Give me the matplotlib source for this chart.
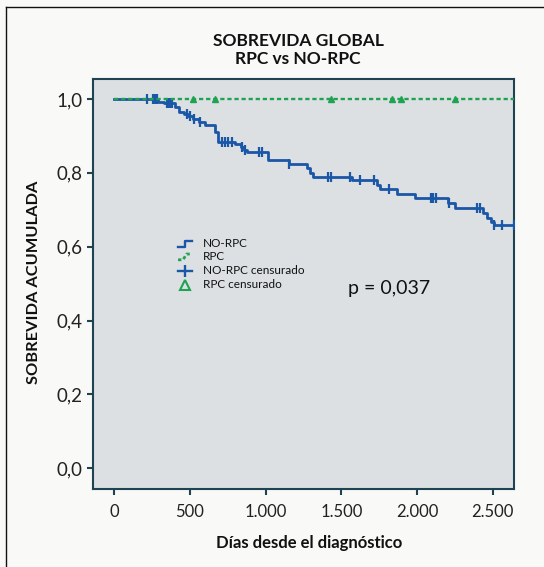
"""Kaplan-Meier overall survival, RPC vs NO-RPC (SPSS-style look)."""
import matplotlib
matplotlib.use("Agg")
import matplotlib.pyplot as plt
import numpy as np
from matplotlib.lines import Line2D

BG = "#f9f9f7"
PANEL = "#dce0e3"
SPINE = "#1d4450"
BLUE = "#1b57a7"
GREEN = "#1fa352"
FONT = "Lato"

# NO-RPC: step times (days) and survival after each step
no_rpc_times = [0, 290, 330, 400, 430, 460, 490, 520, 560, 600, 665, 685,
                798, 840, 860, 875, 1018, 1157, 1275, 1295, 1315, 1568,
                1735, 1755, 1865, 1986, 2205, 2249, 2436, 2459, 2491, 2507]
no_rpc_surv = [1.0, 0.993, 0.988, 0.978, 0.965, 0.960, 0.954, 0.946, 0.937,
               0.929, 0.911, 0.884, 0.878, 0.870, 0.862, 0.857, 0.835, 0.823,
               0.812, 0.800, 0.790, 0.781, 0.767, 0.756, 0.742, 0.731, 0.718,
               0.704, 0.690, 0.677, 0.668, 0.659]
no_rpc_censored = [216, 255, 265, 275, 285, 350, 360, 370, 380, 479, 500, 530,
                   567, 710, 730, 750, 776, 842, 862, 955, 978, 1157, 1414,
                   1429, 1557, 1623, 1715, 1816, 2089, 2107, 2124, 2212, 2397,
                   2414, 2507, 2564, 2640]

# RPC: no events
rpc_times = [0]
rpc_surv = [1.0]
rpc_censored = [523, 666, 1429, 1832, 1891, 2249]

follow_up_end = 2640

x_ticks = [0, 500, 1000, 1500, 2000, 2500]
x_tick_labels = ["0", "500", "1.000", "1.500", "2.000", "2.500"]
y_ticks = [0.0, 0.2, 0.4, 0.6, 0.8, 1.0]
y_tick_labels = ["0,0", "0,2", "0,4", "0,6", "0,8", "1,0"]


def surv_at(times, surv, t):
    idx = np.searchsorted(times, t, side="right") - 1
    return np.asarray(surv)[idx]


W, H = 544, 567
fig = plt.figure(figsize=(W / 100, H / 100), dpi=100, facecolor=BG)
ax = fig.add_axes([93 / W, 1 - 489 / H, (514 - 93) / W, (489 - 79) / H])
ax.set_facecolor(PANEL)

# curves
t = no_rpc_times + [follow_up_end]
s = no_rpc_surv + [no_rpc_surv[-1]]
ax.step(t, s, where="post", color=BLUE, lw=2.0, zorder=3)
ax.plot(no_rpc_censored, surv_at(no_rpc_times, no_rpc_surv, no_rpc_censored),
        ls="none", marker="|", ms=7, mew=1.6, color=BLUE, zorder=4)

t = rpc_times + [follow_up_end]
s = rpc_surv + [rpc_surv[-1]]
ax.step(t, s, where="post", color=GREEN, lw=1.7, ls=(0, (1.8, 1.2)), zorder=5)
ax.plot(rpc_censored, surv_at(rpc_times, rpc_surv, rpc_censored),
        ls="none", marker="^", ms=4.5, color=GREEN, zorder=6)

ax.set_xlim(-140, 2640)
ax.set_ylim(-0.056, 1.054)
ax.set_xticks(x_ticks)
ax.set_xticklabels(x_tick_labels, fontsize=12, family=FONT, color="#222222")
ax.set_yticks(y_ticks)
ax.set_yticklabels(y_tick_labels, fontsize=13.5, family=FONT, color="#222222")
ax.tick_params(axis="both", direction="out", length=4.5, width=1.5,
               color=SPINE, pad=3)
ax.tick_params(axis="x", pad=6)
for sp in ax.spines.values():
    sp.set_color(SPINE)
    sp.set_linewidth(1.5)

# legend, drawn by hand (step glyphs like SPSS)
lx0, lx1, tx = 0.202, 0.234, 0.262
rows = [0.598, 0.566, 0.532, 0.498]
labels = ["NO-RPC", "RPC", "NO-RPC censurado", "RPC censurado"]
d = 0.007
ax.plot([lx0, (lx0 + lx1) / 2, (lx0 + lx1) / 2, lx1],
        [rows[0] - d, rows[0] - d, rows[0] + d, rows[0] + d],
        color=BLUE, lw=1.7, transform=ax.transAxes, clip_on=False)
ax.plot([lx0, (lx0 + lx1) / 2 - 0.004, (lx0 + lx1) / 2 + 0.004, lx1],
        [rows[1] - d, rows[1] - d, rows[1] + d, rows[1] + d],
        color=GREEN, lw=2.0, ls=(0, (1.2, 0.9)), transform=ax.transAxes,
        clip_on=False)
ax.plot([lx0, lx1], [rows[2], rows[2]], color=BLUE, lw=1.7,
        transform=ax.transAxes)
ax.plot([(lx0 + lx1) / 2], [rows[2]], marker="|", ms=9, mew=1.7, color=BLUE,
        transform=ax.transAxes)
ax.plot([(lx0 + lx1) / 2], [rows[3]], marker="^", ms=6.5, mew=1.5,
        mfc="none", mec=GREEN, transform=ax.transAxes)
for y, lab in zip(rows, labels):
    ax.text(tx, y, lab, transform=ax.transAxes, ha="left", va="center",
            fontsize=8.5, family=FONT, color="#111111")

ax.text(0.606, 0.488, "p = 0,037", transform=ax.transAxes, ha="left",
        va="center", fontsize=14, family=FONT, color="#111111")

# titles and axis labels
fig.text(298 / W, 1 - 41 / H, "SOBREVIDA GLOBAL", ha="center", va="center",
         fontsize=12.5, family=FONT, fontweight="bold", color="#111111")
fig.text(298 / W, 1 - 59 / H, "RPC vs NO-RPC", ha="center", va="center",
         fontsize=12.5, family=FONT, fontweight="bold", color="#111111")
fig.text(34 / W, 1 - 282 / H, "SOBREVIDA ACUMULADA", ha="center", va="center",
         rotation=90, fontsize=11.8, family=FONT, fontweight="bold",
         color="#111111")
fig.text(309 / W, 1 - 543 / H, "Días desde el diagnóstico", ha="center",
         va="center", fontsize=12, family=FONT, fontweight="bold",
         color="#111111")

# outer frame (left and top edges visible)
fig.add_artist(Line2D([6 / W, 6 / W], [0, 1 - 7 / H], color="#111111",
                      lw=1.0, transform=fig.transFigure))
fig.add_artist(Line2D([6 / W, 1], [1 - 7 / H, 1 - 7 / H], color="#111111",
                      lw=1.0, transform=fig.transFigure))

fig.savefig("out.png", dpi=100, facecolor=BG)
